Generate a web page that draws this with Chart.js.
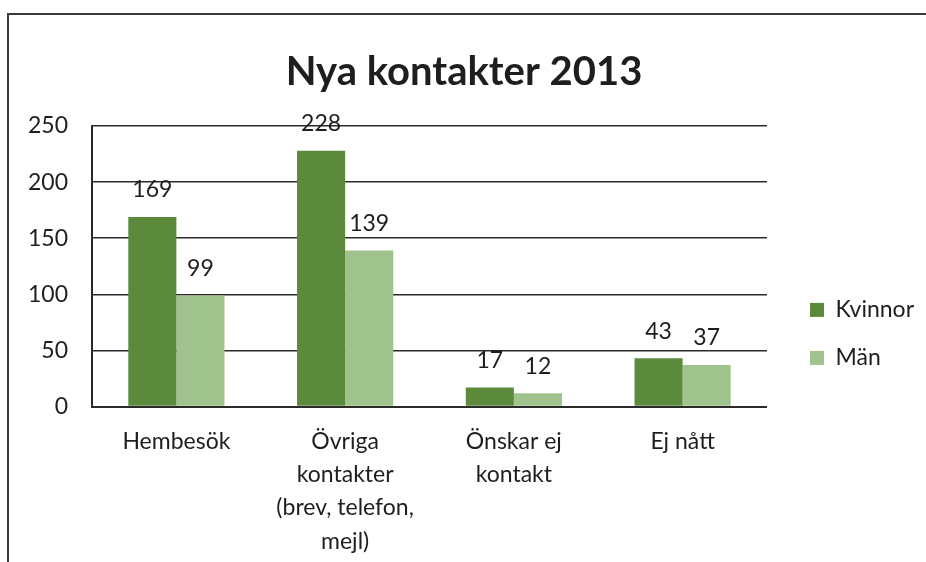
<!DOCTYPE html>
<html>
<head>
<meta charset="utf-8">
<script src="https://cdn.jsdelivr.net/npm/chart.js@4.4.1/dist/chart.umd.min.js"></script>
<style>
  html, body { margin: 0; padding: 0; background: #fff; }
  #frame {
    position: absolute; left: 7px; top: 13px; width: 940px; height: 560px;
    border-top: 2px solid #3a3a3a; border-left: 2px solid #3a3a3a;
  }
  #wrap { position: absolute; left: 0; top: 0; width: 926px; height: 562px; }
</style>
</head>
<body>
<div id="frame"></div>
<div id="wrap"><canvas id="myChart"></canvas></div>
<script>
var categories = [
    ['Hembesök'],
    ['Övriga', 'kontakter', '(brev, telefon,', 'mejl)'],
    ['Önskar ej', 'kontakt'],
    ['Ej nått']
];
var kvinnor = [169, 228, 17, 43];
var man = [99, 139, 12, 37];
var yTicks = [0, 50, 100, 150, 200, 250];

var fontFamily = 'Lato, "Open Sans", sans-serif';
var textColor = '#1e1e1e';

// etiketter ovanfor staplarna
var valueLabels = {
    id: 'valueLabels',
    afterDatasetsDraw: function (chart) {
        var ctx = chart.ctx;
        ctx.save();
        ctx.font = '23px ' + fontFamily;
        ctx.fillStyle = textColor;
        ctx.textAlign = 'center';
        ctx.textBaseline = 'middle';
        chart.data.datasets.forEach(function (ds, i) {
            var meta = chart.getDatasetMeta(i);
            meta.data.forEach(function (bar, j) {
                ctx.fillText(String(ds.data[j]), bar.x, bar.y - 27);
            });
        });
        ctx.restore();
    }
};

var ctx = document.getElementById('myChart').getContext('2d');
var myChart = new Chart(ctx, {
    type: 'bar',
    data: {
        labels: categories,
        datasets: [{
            label: 'Kvinnor',
            data: kvinnor,
            backgroundColor: '#5b8a3d',
            borderWidth: 0,
            categoryPercentage: 0.57,
            barPercentage: 1
        }, {
            label: 'Män',
            data: man,
            backgroundColor: '#a0c28c',
            borderWidth: 0,
            categoryPercentage: 0.57,
            barPercentage: 1
        }]
    },
    options: {
        responsive: true,
        maintainAspectRatio: false,
        animation: false,
        layout: { padding: { left: 4, right: 2, top: 0, bottom: -14 } },
        plugins: {
            title: {
                display: true,
                text: 'Nya kontakter 2013',
                color: textColor,
                font: { family: fontFamily, size: 40, weight: 'bold' },
                padding: { top: 48, bottom: 30 }
            },
            legend: {
                position: 'right',
                align: 'center',
                title: { display: true, text: '', padding: { top: 87, bottom: 0 }, font: { size: 4 } },
                labels: {
                    color: textColor,
                    font: { family: fontFamily, size: 23 },
                    boxWidth: 14,
                    boxHeight: 14,
                    padding: 25
                }
            },
            tooltip: { enabled: false }
        },
        scales: {
            x: {
                grid: { display: false, drawTicks: false },
                border: { display: true, color: '#2a2a2a', width: 2 },
                ticks: {
                    color: textColor,
                    font: { family: fontFamily, size: 23, lineHeight: 1.45 },
                    padding: 18,
                    maxRotation: 0,
                    autoSkip: false
                }
            },
            y: {
                min: 0,
                max: 250,
                afterBuildTicks: function (axis) {
                    axis.ticks = yTicks.map(function (v) { return { value: v }; });
                },
                grid: { color: '#2a2a2a', lineWidth: 1.6, drawTicks: false },
                border: { display: true, color: '#2a2a2a', width: 2 },
                ticks: {
                    color: textColor,
                    font: { family: fontFamily, size: 23 },
                    padding: 24
                }
            },
            // tom axel som ger luft mellan diagram och legend
            gap: {
                type: 'linear',
                position: 'right',
                display: true,
                grid: { display: false },
                border: { display: false },
                ticks: { display: false },
                afterFit: function (axis) { axis.width = 18; }
            }
        }
    },
    plugins: [valueLabels]
});
</script>
</body>
</html>
